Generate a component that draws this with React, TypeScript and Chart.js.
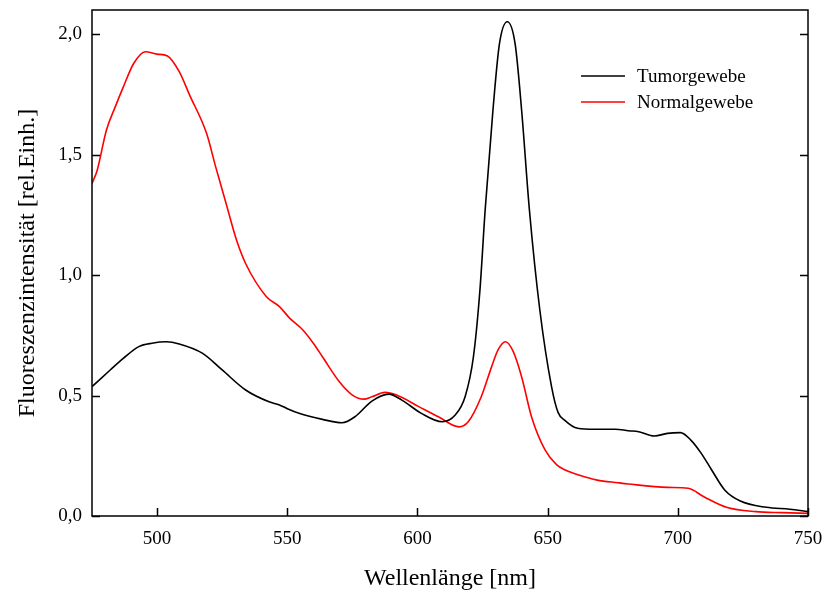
import React, { useEffect, useRef } from "react";
import { Chart, registerables } from "chart.js";

Chart.register(...registerables);

const FONT = '"Liberation Serif", "Times New Roman", serif';

const seriesLabels = ["Tumorgewebe", "Normalgewebe"];
const seriesColors = ["#000000", "#ff0000"];

const tumorWavelengths = [
  475, 482, 487, 493, 498, 503.5, 508.5, 517.5, 525, 534, 543, 547, 550.5, 554.5, 563.5, 571,
  576, 582.5, 589, 594, 601.5, 609.5, 614.5, 618.3, 621.5, 624, 626, 629, 631.5,
  634.5, 637.5, 640, 643, 647, 651.5, 654, 656.5, 661.5, 668, 676, 681, 685, 691, 696, 701,
  705, 709, 713, 718, 724, 734, 743, 750,
];
const tumorValues = [
  0.537, 0.606, 0.654, 0.703, 0.717, 0.723, 0.714, 0.675, 0.606, 0.523, 0.474, 0.461, 0.443,
  0.426, 0.401, 0.387, 0.412, 0.477, 0.506, 0.481, 0.426, 0.391, 0.419, 0.495, 0.661, 0.938,
  1.27, 1.685, 1.96, 2.051, 1.96, 1.685, 1.27, 0.855, 0.537, 0.43, 0.398, 0.364,
  0.36, 0.36, 0.354, 0.35, 0.332, 0.343, 0.346, 0.315, 0.26, 0.191, 0.108, 0.062, 0.036, 0.028,
  0.018,
];

const normalWavelengths = [
  475, 477, 480.5, 484, 487, 491, 495.5, 500, 504, 508.5, 512.5, 519, 522.5, 526.5, 530.5, 534,
  542, 547, 551, 556, 560, 563.5, 570, 575, 579.5, 582.5, 587.5, 592, 600.5, 608, 616, 619.5,
  624.5, 628.5, 631, 633.8, 636.8, 640, 643.8, 649, 653.5, 657, 662, 669, 677, 681, 696, 704,
  710, 719, 730, 740, 750,
];
const normalValues = [
  1.38, 1.435, 1.6, 1.7, 1.78, 1.878, 1.927, 1.917, 1.909, 1.844, 1.747, 1.588, 1.449, 1.297,
  1.145, 1.048, 0.91, 0.869, 0.82, 0.772, 0.717, 0.661, 0.557, 0.502, 0.485, 0.495, 0.513, 0.502,
  0.454, 0.412, 0.37, 0.391, 0.495, 0.62, 0.69, 0.723, 0.682, 0.578, 0.412, 0.274, 0.212, 0.19,
  0.17, 0.149, 0.138, 0.133, 0.119, 0.115, 0.08, 0.035, 0.018, 0.014, 0.011,
];

const xTicks = [500, 550, 600, 650, 700, 750];
const yTicks = [0, 0.5, 1.0, 1.5, 2.0];
const xTitle = "Wellenlänge [nm]";
const yTitle = "Fluoreszenzintensität [rel.Einh.]";

const framePlugin = {
  id: "framePlugin",
  afterDraw(chart: any) {
    const { ctx, chartArea } = chart;
    const { left, right, top, bottom } = chartArea;
    const xs = chart.scales.x;
    const ys = chart.scales.y;
    ctx.save();
    ctx.strokeStyle = "#000";
    ctx.lineWidth = 1.5;
    ctx.strokeRect(left, top, right - left, bottom - top);
    ctx.beginPath();
    const tl = 8;
    xTicks.forEach((v) => {
      const px = Math.round(xs.getPixelForValue(v)) + 0.5;
      ctx.moveTo(px, bottom);
      ctx.lineTo(px, bottom - tl);
    });
    yTicks.forEach((v) => {
      const py = Math.round(ys.getPixelForValue(v)) + 0.5;
      ctx.moveTo(left, py);
      ctx.lineTo(left + tl, py);
      ctx.moveTo(right, py);
      ctx.lineTo(right - tl, py);
    });
    ctx.stroke();

    // legend
    ctx.font = `19px ${FONT}`;
    ctx.textBaseline = "middle";
    ctx.textAlign = "left";
    const legendY = [76, 102];
    seriesLabels.forEach((lab, i) => {
      ctx.strokeStyle = seriesColors[i];
      ctx.lineWidth = 1.5;
      ctx.beginPath();
      ctx.moveTo(581, legendY[i]);
      ctx.lineTo(625, legendY[i]);
      ctx.stroke();
      ctx.fillStyle = "#000";
      ctx.fillText(lab, 637, legendY[i] + 1);
    });
    ctx.restore();
  },
};

const zeroPad = (s: any) => {
  s.paddingTop = 0;
  s.paddingBottom = 0;
  s.paddingLeft = 0;
  s.paddingRight = 0;
};

export default function App() {
  const ref = useRef<HTMLCanvasElement | null>(null);

  useEffect(() => {
    if (!ref.current) return;
    const chart = new Chart(ref.current, {
      type: "line",
      data: {
        datasets: [
          {
            label: seriesLabels[0],
            data: tumorWavelengths.map((x, i) => ({ x, y: tumorValues[i] })),
            borderColor: seriesColors[0],
            backgroundColor: seriesColors[0],
            borderWidth: 1.6,
            pointRadius: 0,
            cubicInterpolationMode: "monotone",
            fill: false,
          },
          {
            label: seriesLabels[1],
            data: normalWavelengths.map((x, i) => ({ x, y: normalValues[i] })),
            borderColor: seriesColors[1],
            backgroundColor: seriesColors[1],
            borderWidth: 1.6,
            pointRadius: 0,
            cubicInterpolationMode: "monotone",
            fill: false,
          },
        ],
      },
      options: {
        animation: false,
        responsive: false,
        maintainAspectRatio: false,
        layout: { padding: { top: 10, right: 17, left: 0, bottom: 0 } },
        plugins: {
          legend: { display: false },
          tooltip: { enabled: false },
        },
        scales: {
          x: {
            type: "linear",
            min: 475,
            max: 750,
            grid: { display: false, drawTicks: false },
            border: { display: false },
            ticks: {
              stepSize: 50,
              includeBounds: false,
              padding: 12,
              color: "#000",
              font: { family: FONT, size: 19 },
              maxRotation: 0,
              callback: (v: any) => String(v),
            },
            title: {
              display: true,
              text: xTitle,
              color: "#000",
              font: { family: FONT, size: 24 },
              padding: { top: 0, bottom: 2 },
            },
            afterFit: (s: any) => {
              s.height = 79;
              zeroPad(s);
            },
          },
          y: {
            type: "linear",
            min: 0,
            max: 2.1,
            grid: { display: false, drawTicks: false },
            border: { display: false },
            ticks: {
              stepSize: 0.5,
              includeBounds: false,
              padding: 10,
              color: "#000",
              font: { family: FONT, size: 19 },
              callback: (v: any) => Number(v).toFixed(1).replace(".", ","),
            },
            title: {
              display: true,
              text: yTitle,
              color: "#000",
              font: { family: FONT, size: 24 },
              padding: { top: 13, bottom: 0 },
            },
            afterFit: (s: any) => {
              s.width = 92;
              zeroPad(s);
            },
          },
        },
      },
      plugins: [framePlugin],
    } as any);
    return () => chart.destroy();
  }, []);

  return (
    <div style={{ position: "absolute", left: 0, top: 0, width: 825, height: 595, background: "#fff" }}>
      <canvas ref={ref} width={825} height={595} style={{ display: "block" }} />
    </div>
  );
}
